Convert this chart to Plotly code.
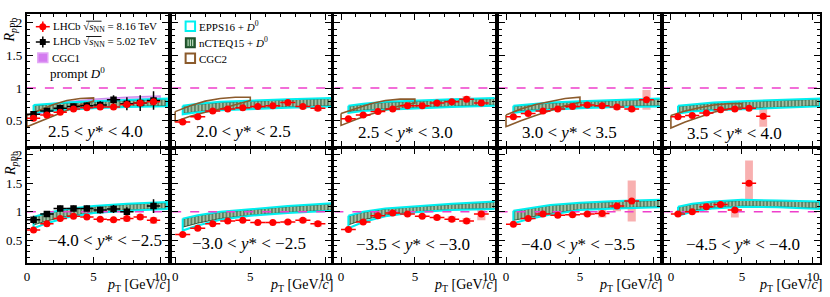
import plotly.graph_objects as go

W, H = 830, 297
FONT = "Liberation Serif"

# ---------------- data ----------------
PT = [0.5, 1.5, 2.5, 3.5, 4.5, 5.5, 6.5, 7.5, 8.5, 9.5]
PT_ERR = [0.5, 0.5, 0.5, 0.5, 0.5, 0.5, 0.5, 0.5, 0.5, 0.5]

LABELS_FWD = ["2.5 &lt; <i>y</i>* &lt; 4.0", "2.0 &lt; <i>y</i>* &lt; 2.5", "2.5 &lt; <i>y</i>* &lt; 3.0",
              "3.0 &lt; <i>y</i>* &lt; 3.5", "3.5 &lt; <i>y</i>* &lt; 4.0"]
LABELS_BWD = ["−4.0 &lt; <i>y</i>* &lt; −2.5", "−3.0 &lt; <i>y</i>* &lt; −2.5", "−3.5 &lt; <i>y</i>* &lt; −3.0",
              "−4.0 &lt; <i>y</i>* &lt; −3.5", "−4.5 &lt; <i>y</i>* &lt; −4.0"]

# LHCb sqrt(sNN)=8.16 TeV, prompt D0 RpPb
R816_F1 = [0.54, 0.59, 0.63, 0.68, 0.70, 0.71, 0.71, 0.75, 0.77, 0.79]
R816_F2 = [0.48, 0.56, 0.65, 0.68, 0.70, 0.72, 0.73, 0.78, 0.72, 0.69]
R816_F3 = [0.53, 0.59, 0.64, 0.68, 0.73, 0.73, 0.77, 0.79, 0.83, 0.77]
R816_F4 = [0.56, 0.61, 0.65, 0.68, 0.72, 0.74, 0.73, 0.71, 0.68, 0.82]
R816_F5 = [0.56, 0.58, 0.62, 0.67, 0.68, 0.69, 0.57]
R816_B1 = [0.68, 0.79, 0.88, 0.92, 0.91, 0.87, 0.86, 0.88, 0.91, 0.85]
R816_B2 = [0.60, 0.71, 0.79, 0.84, 0.85, 0.81, 0.81, 0.82, 0.85, 0.79]
R816_B3 = [0.69, 0.82, 0.93, 0.98, 0.96, 0.92, 0.90, 0.87, 0.84, 0.96]
R816_B4 = [0.78, 0.88, 0.96, 0.94, 0.95, 0.96, 0.97, 1.10, 1.19]
R816_B5 = [0.96, 1.00, 1.09, 1.13, 1.03, 1.50]

STAT_F1 = [0.010, 0.010, 0.010, 0.010, 0.010, 0.010, 0.012, 0.015, 0.015, 0.020]
STAT_F2 = [0.010, 0.010, 0.010, 0.010, 0.010, 0.010, 0.012, 0.015, 0.015, 0.020]
STAT_F3 = [0.010, 0.010, 0.010, 0.010, 0.010, 0.010, 0.012, 0.015, 0.015, 0.020]
STAT_F4 = [0.010, 0.010, 0.010, 0.010, 0.010, 0.010, 0.012, 0.015, 0.020, 0.030]
STAT_F5 = [0.010, 0.010, 0.010, 0.012, 0.015, 0.020, 0.040]
STAT_B1 = [0.010, 0.010, 0.010, 0.010, 0.010, 0.012, 0.015, 0.015, 0.020, 0.020]
STAT_B2 = [0.010, 0.010, 0.010, 0.010, 0.010, 0.012, 0.015, 0.015, 0.020, 0.020]
STAT_B3 = [0.010, 0.010, 0.010, 0.010, 0.012, 0.015, 0.015, 0.020, 0.020, 0.030]
STAT_B4 = [0.010, 0.010, 0.010, 0.012, 0.015, 0.015, 0.020, 0.030, 0.040]
STAT_B5 = [0.015, 0.015, 0.020, 0.020, 0.030, 0.030]

SYST_F1 = [0.03, 0.03, 0.02, 0.02, 0.02, 0.02, 0.02, 0.03, 0.03, 0.04]
SYST_F2 = [0.02, 0.02, 0.02, 0.02, 0.02, 0.02, 0.02, 0.04, 0.04, 0.04]
SYST_F3 = [0.02, 0.02, 0.02, 0.02, 0.02, 0.02, 0.04, 0.04, 0.05, 0.05]
SYST_F4 = [0.02, 0.02, 0.02, 0.02, 0.02, 0.02, 0.03, 0.04, 0.04, 0.15]
SYST_F5 = [0.02, 0.02, 0.02, 0.02, 0.02, 0.03, 0.16]
SYST_B1 = [0.02, 0.02, 0.02, 0.02, 0.02, 0.03, 0.03, 0.05, 0.05, 0.06]
SYST_B2 = [0.02, 0.02, 0.02, 0.02, 0.02, 0.02, 0.02, 0.03, 0.04, 0.05]
SYST_B3 = [0.02, 0.02, 0.03, 0.03, 0.03, 0.03, 0.04, 0.05, 0.05, 0.11]
SYST_B4 = [0.02, 0.02, 0.02, 0.02, 0.03, 0.03, 0.07, 0.09, 0.36]
SYST_B5 = [0.03, 0.03, 0.03, 0.04, 0.13, 0.40]

# LHCb sqrt(sNN)=5.02 TeV (only in the wide rapidity panels)
PT_502_F = [0.5, 1.5, 2.5, 3.5, 4.5, 5.5, 6.5, 7.5, 8.5, 9.5]
R502_F = [0.60, 0.65, 0.69, 0.72, 0.73, 0.74, 0.82, 0.76, 0.77, 0.81]
ERR502_F = [0.04, 0.03, 0.04, 0.04, 0.05, 0.06, 0.07, 0.10, 0.12, 0.14]
PT_502_B = [0.5, 1.5, 2.5, 3.5, 4.5, 5.5, 6.5, 7.5, 9.5]
R502_B = [0.86, 0.96, 1.06, 1.06, 1.06, 1.03, 1.05, 1.00, 1.10]
ERR502_B = [0.07, 0.05, 0.05, 0.05, 0.05, 0.06, 0.07, 0.08, 0.12]

# theory bands (pT knots)
BAND_PT = [0.5, 1.5, 3.0, 5.0, 7.5, 10.5]
NC_F1_LO = [0.64, 0.66, 0.68, 0.70, 0.72, 0.73]; NC_F1_HI = [0.73, 0.75, 0.77, 0.79, 0.81, 0.83]
NC_F2_LO = [0.61, 0.64, 0.67, 0.69, 0.71, 0.73]; NC_F2_HI = [0.72, 0.75, 0.78, 0.80, 0.82, 0.84]
NC_F3_LO = [0.64, 0.66, 0.68, 0.70, 0.72, 0.74]; NC_F3_HI = [0.72, 0.75, 0.78, 0.80, 0.82, 0.84]
NC_F4_LO = [0.64, 0.66, 0.68, 0.70, 0.72, 0.73]; NC_F4_HI = [0.72, 0.74, 0.77, 0.79, 0.81, 0.83]
NC_F5_LO = [0.62, 0.65, 0.67, 0.69, 0.71, 0.73]; NC_F5_HI = [0.72, 0.74, 0.77, 0.79, 0.81, 0.83]
NC_B1_LO = [0.77, 0.84, 0.92, 0.99, 1.03, 1.06]; NC_B1_HI = [0.90, 0.97, 1.04, 1.09, 1.13, 1.16]
NC_B2_LO = [0.73, 0.80, 0.88, 0.94, 0.99, 1.03]; NC_B2_HI = [0.87, 0.93, 0.99, 1.04, 1.09, 1.14]
NC_B3_LO = [0.77, 0.86, 0.94, 1.00, 1.04, 1.06]; NC_B3_HI = [0.92, 0.99, 1.05, 1.09, 1.13, 1.17]
NC_B4_LO = [0.85, 0.90, 0.97, 1.04, 1.07, 1.09]; NC_B4_HI = [1.01, 1.05, 1.11, 1.15, 1.18, 1.20]
NC_B5_LO = [0.97, 1.02, 1.07, 1.10, 1.09, 1.06]; NC_B5_HI = [1.08, 1.13, 1.17, 1.20, 1.19, 1.17]

EP_F1_LO = [0.62, 0.65, 0.67, 0.69, 0.71, 0.72]; EP_F1_HI = [0.74, 0.76, 0.78, 0.80, 0.82, 0.84]
EP_F2_LO = [0.60, 0.63, 0.66, 0.68, 0.70, 0.72]; EP_F2_HI = [0.73, 0.76, 0.79, 0.81, 0.83, 0.85]
EP_F3_LO = [0.62, 0.65, 0.67, 0.69, 0.71, 0.73]; EP_F3_HI = [0.73, 0.76, 0.79, 0.81, 0.83, 0.85]
EP_F4_LO = [0.62, 0.65, 0.67, 0.69, 0.71, 0.72]; EP_F4_HI = [0.73, 0.75, 0.78, 0.80, 0.82, 0.84]
EP_F5_LO = [0.61, 0.64, 0.66, 0.68, 0.70, 0.72]; EP_F5_HI = [0.73, 0.75, 0.78, 0.80, 0.82, 0.84]
EP_B1_LO = [0.71, 0.80, 0.90, 0.98, 1.02, 1.05]; EP_B1_HI = [0.91, 0.98, 1.05, 1.10, 1.14, 1.17]
EP_B2_LO = [0.67, 0.76, 0.86, 0.93, 0.98, 1.02]; EP_B2_HI = [0.88, 0.94, 1.00, 1.05, 1.10, 1.15]
EP_B3_LO = [0.71, 0.82, 0.92, 0.99, 1.03, 1.05]; EP_B3_HI = [0.93, 1.00, 1.06, 1.10, 1.14, 1.18]
EP_B4_LO = [0.80, 0.87, 0.95, 1.03, 1.06, 1.08]; EP_B4_HI = [1.02, 1.06, 1.12, 1.16, 1.19, 1.21]
EP_B5_LO = [0.93, 1.00, 1.06, 1.09, 1.08, 1.05]; EP_B5_HI = [1.09, 1.14, 1.18, 1.21, 1.20, 1.18]

CGC1_PT = [0.5, 1.5, 3.0, 5.0, 7.5, 10.0]
CGC1_LO = [0.58, 0.64, 0.71, 0.75, 0.78, 0.80]
CGC1_HI = [0.64, 0.71, 0.79, 0.83, 0.86, 0.88]

CGC2_PT = [0.0, 1.0, 2.0, 3.0, 4.0, 5.0]
CGC2_F1_LO = [0.41, 0.50, 0.58, 0.66, 0.74, 0.80]; CGC2_F1_HI = [0.58, 0.66, 0.75, 0.81, 0.84, 0.85]
CGC2_F2_LO = [0.49, 0.57, 0.63, 0.68, 0.74, 0.81]; CGC2_F2_HI = [0.64, 0.73, 0.80, 0.84, 0.86, 0.86]
CGC2_F3_LO = [0.43, 0.52, 0.60, 0.67, 0.73, 0.77]; CGC2_F3_HI = [0.61, 0.69, 0.76, 0.81, 0.83, 0.83]
CGC2_F4_LO = [0.41, 0.50, 0.58, 0.66, 0.73, 0.78]; CGC2_F4_HI = [0.59, 0.68, 0.75, 0.80, 0.84, 0.86]
CGC2_F5_LO = [0.39, 0.48, 0.56, 0.63, 0.68, 0.71]; CGC2_F5_HI = [0.58, 0.65, 0.70, 0.74, 0.76, 0.76]

# ---------------- layout config ----------------
COL_PX = [(24, 166), (170, 330), (333, 494), (498, 660), (664, 821)]
X_RANGES = [(0, 10.6), (-0.2, 10.4), (-0.45, 10.4), (-0.5, 10.4), (-0.5, 10.5)]
ROW_PX = [(14, 147), (147.5, 263)]
Y_RANGE = (0.1, 2.13)
LABEL_POS_FWD = [(93, 131.5), (242, 131.5), (404, 132.5), (569, 132), (735, 133)]
LABEL_POS_BWD = [(102, 240), (247, 243), (412, 244), (578, 244), (744, 244)]

panels = [
    dict(r=R816_F1, st=STAT_F1, sy=SYST_F1, nc=(NC_F1_LO, NC_F1_HI), ep=(EP_F1_LO, EP_F1_HI), cg=(CGC2_F1_LO, CGC2_F1_HI)),
    dict(r=R816_F2, st=STAT_F2, sy=SYST_F2, nc=(NC_F2_LO, NC_F2_HI), ep=(EP_F2_LO, EP_F2_HI), cg=(CGC2_F2_LO, CGC2_F2_HI)),
    dict(r=R816_F3, st=STAT_F3, sy=SYST_F3, nc=(NC_F3_LO, NC_F3_HI), ep=(EP_F3_LO, EP_F3_HI), cg=(CGC2_F3_LO, CGC2_F3_HI)),
    dict(r=R816_F4, st=STAT_F4, sy=SYST_F4, nc=(NC_F4_LO, NC_F4_HI), ep=(EP_F4_LO, EP_F4_HI), cg=(CGC2_F4_LO, CGC2_F4_HI)),
    dict(r=R816_F5, st=STAT_F5, sy=SYST_F5, nc=(NC_F5_LO, NC_F5_HI), ep=(EP_F5_LO, EP_F5_HI), cg=(CGC2_F5_LO, CGC2_F5_HI)),
    dict(r=R816_B1, st=STAT_B1, sy=SYST_B1, nc=(NC_B1_LO, NC_B1_HI), ep=(EP_B1_LO, EP_B1_HI), cg=None),
    dict(r=R816_B2, st=STAT_B2, sy=SYST_B2, nc=(NC_B2_LO, NC_B2_HI), ep=(EP_B2_LO, EP_B2_HI), cg=None),
    dict(r=R816_B3, st=STAT_B3, sy=SYST_B3, nc=(NC_B3_LO, NC_B3_HI), ep=(EP_B3_LO, EP_B3_HI), cg=None),
    dict(r=R816_B4, st=STAT_B4, sy=SYST_B4, nc=(NC_B4_LO, NC_B4_HI), ep=(EP_B4_LO, EP_B4_HI), cg=None),
    dict(r=R816_B5, st=STAT_B5, sy=SYST_B5, nc=(NC_B5_LO, NC_B5_HI), ep=(EP_B5_LO, EP_B5_HI), cg=None),
]

RED = "#ff0000"
PINK = "rgba(240,80,80,0.45)"
CYAN = "#00f0f0"
GREEN_FG = "#163f20"
GREEN_BG = "#a9c6ab"
BROWN = "#8b5a2b"
MAGENTA = "#ee3ecb"
VIOLET_FILL = "rgba(214,120,240,0.55)"
VIOLET_LINE = "rgba(200,130,235,0.9)"


def fx(px):
    return px / W


def fy(py):
    return 1 - py / H


def polygon(xs, lo, hi):
    px = list(xs) + list(xs[::-1]) + [xs[0]]
    py = list(hi) + list(lo[::-1]) + [hi[0]]
    return px, py


fig = go.Figure()
layout = dict(
    width=W, height=H, margin=dict(l=0, r=0, t=0, b=0),
    paper_bgcolor="white", plot_bgcolor="white", showlegend=False,
    barmode="overlay", font=dict(family=FONT, color="black", size=13),
)

for i, p in enumerate(panels):
    row, col = divmod(i, 5)
    n = i + 1
    xa = "x" if n == 1 else f"x{n}"
    ya = "y" if n == 1 else f"y{n}"
    xr = X_RANGES[col]
    m = len(p["r"])
    pts = PT[:m]

    # CGC1 band (wide forward panel only)
    if i == 0:
        cx, cy = polygon(CGC1_PT, CGC1_LO, CGC1_HI)
        fig.add_trace(go.Scatter(x=cx, y=cy, mode="lines", fill="toself", fillcolor=VIOLET_FILL,
                                 line=dict(color=VIOLET_LINE, width=1.2), xaxis=xa, yaxis=ya, hoverinfo="skip"))
    # nCTEQ15 hatched band
    bx, by = polygon(BAND_PT, p["nc"][0], p["nc"][1])
    fig.add_trace(go.Scatter(x=bx, y=by, mode="lines", fill="toself", fillcolor=GREEN_BG,
                             fillpattern=dict(shape="|", fgcolor=GREEN_FG, bgcolor=GREEN_BG, size=3.5, solidity=0.55),
                             line=dict(color=GREEN_FG, width=0.8), xaxis=xa, yaxis=ya, hoverinfo="skip"))
    # EPPS16 outline
    ex, ey = polygon(BAND_PT, p["ep"][0], p["ep"][1])
    fig.add_trace(go.Scatter(x=ex, y=ey, mode="lines", line=dict(color=CYAN, width=2),
                             xaxis=xa, yaxis=ya, hoverinfo="skip"))
    # CGC2 outline
    if p["cg"] is not None:
        gx, gy = polygon(CGC2_PT, p["cg"][0], p["cg"][1])
        fig.add_trace(go.Scatter(x=gx, y=gy, mode="lines", line=dict(color=BROWN, width=1.6),
                                 xaxis=xa, yaxis=ya, hoverinfo="skip"))
    # unity line
    fig.add_trace(go.Scatter(x=list(xr), y=[1, 1], mode="lines",
                             line=dict(color=MAGENTA, width=1.6, dash="dash"), xaxis=xa, yaxis=ya, hoverinfo="skip"))
    # systematic boxes
    fig.add_trace(go.Bar(x=pts, y=[2 * s for s in p["sy"]], base=[v - s for v, s in zip(p["r"], p["sy"])],
                         width=0.55, marker=dict(color=PINK, line=dict(width=0)), xaxis=xa, yaxis=ya, hoverinfo="skip"))
    # 5.02 TeV black points
    if col == 0:
        bxv, byv, bev = (PT_502_F, R502_F, ERR502_F) if row == 0 else (PT_502_B, R502_B, ERR502_B)
        fig.add_trace(go.Scatter(x=bxv, y=byv, mode="markers",
                                 marker=dict(symbol="square", size=6.5, color="black"),
                                 error_y=dict(type="data", array=bev, color="black", thickness=1.5, width=0),
                                 error_x=dict(type="data", array=PT_ERR[:len(bxv)], color="black", thickness=1.5, width=0),
                                 xaxis=xa, yaxis=ya, hoverinfo="skip"))
    # 8.16 TeV red points
    fig.add_trace(go.Scatter(x=pts, y=p["r"], mode="markers",
                             marker=dict(symbol="circle", size=7, color=RED),
                             error_y=dict(type="data", array=p["st"], color=RED, thickness=1.5, width=0),
                             error_x=dict(type="data", array=PT_ERR[:m], color=RED, thickness=1.5, width=0),
                             xaxis=xa, yaxis=ya, hoverinfo="skip"))

    x0, x1 = COL_PX[col]
    y0, y1 = ROW_PX[row]
    xkey = "xaxis" if n == 1 else f"xaxis{n}"
    ykey = "yaxis" if n == 1 else f"yaxis{n}"
    layout[xkey] = dict(
        domain=[fx(x0), fx(x1)], range=list(xr), anchor=ya,
        showline=True, linecolor="black", linewidth=2, mirror="ticks",
        ticks="inside", ticklen=6, tickwidth=1.3, tickcolor="black",
        tickvals=[0, 5, 10], ticktext=["0", "5", "10"],
        minor=dict(ticks="inside", ticklen=3, tickwidth=1, tickcolor="black", dtick=1, tick0=0),
        showticklabels=(row == 1), tickfont=dict(family=FONT, size=13),
        showgrid=False, zeroline=False, fixedrange=True,
    )
    layout[ykey] = dict(
        domain=[fy(y1), fy(y0)], range=list(Y_RANGE), anchor=xa,
        showline=True, linecolor="black", linewidth=2, mirror="ticks",
        ticks="inside", ticklen=6, tickwidth=1.3, tickcolor="black",
        tickvals=[0.5, 1, 1.5, 2], ticktext=["0.5", "1", "1.5", "2"],
        minor=dict(ticks="inside", ticklen=3, tickwidth=1, tickcolor="black", dtick=0.1, tick0=0),
        showticklabels=(col == 0), tickfont=dict(family=FONT, size=13),
        showgrid=False, zeroline=False, fixedrange=True,
    )

annotations = []
shapes = []

# rapidity labels
for (cx, cy), t in zip(LABEL_POS_FWD, LABELS_FWD):
    annotations.append(dict(x=fx(cx), y=fy(cy), xref="paper", yref="paper", text=t, showarrow=False,
                            xanchor="center", yanchor="middle", font=dict(family=FONT, size=17)))
for (cx, cy), t in zip(LABEL_POS_BWD, LABELS_BWD):
    annotations.append(dict(x=fx(cx), y=fy(cy), xref="paper", yref="paper", text=t, showarrow=False,
                            xanchor="center", yanchor="middle", font=dict(family=FONT, size=17)))

# x-axis titles
for (x0, x1) in COL_PX:
    annotations.append(dict(x=fx(x1 + 4), y=fy(296), xref="paper", yref="paper",
                            text="<i>p</i><sub>T</sub> [GeV/<i>c</i>]", showarrow=False,
                            xanchor="right", yanchor="bottom", font=dict(family=FONT, size=14)))
# y-axis titles
for (y0, y1) in ROW_PX:
    annotations.append(dict(x=fx(8), y=fy(y0 + 1), xref="paper", yref="paper",
                            text="<i>R</i><sub><i>p</i>Pb</sub>", showarrow=False, textangle=-90,
                            xanchor="center", yanchor="top", font=dict(family=FONT, size=14)))

# ---- legend (column 1) ----
LEG_FONT = dict(family=FONT, size=11)
shapes += [
    dict(type="line", xref="paper", yref="paper", x0=fx(33), x1=fx(47), y0=fy(26.7), y1=fy(26.7), line=dict(color=RED, width=1.5)),
    dict(type="line", xref="paper", yref="paper", x0=fx(40), x1=fx(40), y0=fy(21.5), y1=fy(32), line=dict(color=RED, width=1.5)),
    dict(type="circle", xref="paper", yref="paper", x0=fx(36.5), x1=fx(43.5), y0=fy(23.2), y1=fy(30.2), fillcolor=RED, line=dict(color=RED, width=0)),
]
annotations.append(dict(x=fx(48), y=fy(27), xref="paper", yref="paper", showarrow=False, xanchor="left", yanchor="middle",
                        text="LHCb √<i>s</i><sub>NN</sub> = 8.16 TeV", font=LEG_FONT))
shapes += [
    dict(type="line", xref="paper", yref="paper", x0=fx(33), x1=fx(47), y0=fy(42), y1=fy(42), line=dict(color="black", width=1.5)),
    dict(type="line", xref="paper", yref="paper", x0=fx(40), x1=fx(40), y0=fy(36.5), y1=fy(47.5), line=dict(color="black", width=1.5)),
    dict(type="rect", xref="paper", yref="paper", x0=fx(37), x1=fx(43), y0=fy(39), y1=fy(45), fillcolor="black", line=dict(width=0)),
]
annotations.append(dict(x=fx(48), y=fy(42), xref="paper", yref="paper", showarrow=False, xanchor="left", yanchor="middle",
                        text="LHCb √<i>s</i><sub>NN</sub> = 5.02 TeV", font=LEG_FONT))
for yy in (21.2, 36.5):
    shapes.append(dict(type="line", xref="paper", yref="paper", x0=fx(83.5), x1=fx(99), y0=fy(yy), y1=fy(yy),
                       line=dict(color="black", width=0.9)))
shapes.append(dict(type="rect", xref="paper", yref="paper", x0=fx(35), x1=fx(45), y0=fy(53), y1=fy(62.5),
                   fillcolor="#d47cf0", line=dict(color="#e2a6f5", width=1.5)))
annotations.append(dict(x=fx(47), y=fy(58), xref="paper", yref="paper", showarrow=False, xanchor="left", yanchor="middle",
                        text="CGC1", font=LEG_FONT))
annotations.append(dict(x=fx(45), y=fy(72.5), xref="paper", yref="paper", showarrow=False, xanchor="left", yanchor="middle",
                        text="prompt <i>D</i><sup>0</sup>", font=dict(family=FONT, size=13)))

# ---- legend (column 2) ----
shapes.append(dict(type="rect", xref="paper", yref="paper", x0=fx(183.5), x1=fx(193), y0=fy(21.5), y1=fy(31),
                   fillcolor="white", line=dict(color=CYAN, width=2)))
shapes.append(dict(type="rect", xref="paper", yref="paper", x0=fx(183.5), x1=fx(193), y0=fy(38), y1=fy(47.5),
                   fillcolor="#2d6a3a", line=dict(color="#1f4d2a", width=1.5)))
for xx in (186, 188.3, 190.6):
    shapes.append(dict(type="line", xref="paper", yref="paper", x0=fx(xx), x1=fx(xx), y0=fy(39.5), y1=fy(46),
                       line=dict(color="#cfe6cf", width=1)))
shapes.append(dict(type="rect", xref="paper", yref="paper", x0=fx(183.5), x1=fx(193), y0=fy(53.5), y1=fy(63),
                   fillcolor="white", line=dict(color=BROWN, width=2)))
annotations.append(dict(x=fx(195), y=fy(26), xref="paper", yref="paper", showarrow=False, xanchor="left", yanchor="middle",
                        text="EPPS16 + <i>D</i><sup>0</sup>", font=LEG_FONT))
annotations.append(dict(x=fx(195), y=fy(42.5), xref="paper", yref="paper", showarrow=False, xanchor="left", yanchor="middle",
                        text="nCTEQ15 + <i>D</i><sup>0</sup>", font=LEG_FONT))
annotations.append(dict(x=fx(195), y=fy(58.5), xref="paper", yref="paper", showarrow=False, xanchor="left", yanchor="middle",
                        text="CGC2", font=LEG_FONT))

layout["annotations"] = annotations
layout["shapes"] = shapes
fig.update_layout(**layout)
fig.write_html("out.html", config={"displayModeBar": False},
               post_script="document.body.style.margin='0';document.body.style.padding='0';")
